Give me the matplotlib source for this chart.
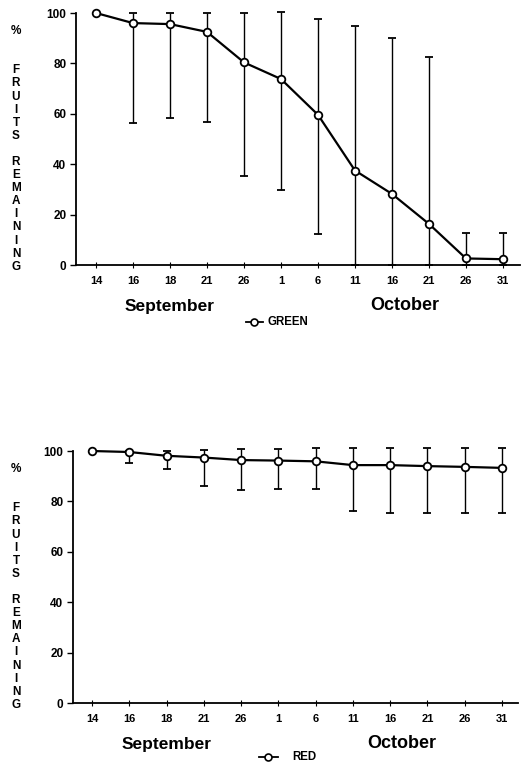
import matplotlib.pyplot as plt

plt.rcParams['font.family'] = ['Liberation Sans', 'DejaVu Sans']
plt.rcParams['font.weight'] = 'bold'

dates = ["14", "16", "18", "21", "26", "1", "6", "11", "16", "21", "26", "31"]

green_mean = [100, 96, 95.6, 92.5, 80.4, 73.8, 59.6, 37.5, 28.2, 16.3, 2.6, 2.3]
green_low = [100, 56.3, 58.3, 56.7, 35.5, 29.7, 12.3, 0, 0, 0, 0, 0]
green_high = [100, 100, 100, 100, 100, 100.5, 97.6, 94.7, 90, 82.6, 12.8, 12.6]

red_mean = [100, 99.6, 98.1, 97.4, 96.4, 96.2, 95.9, 94.4, 94.4, 94.0, 93.7, 93.3]
red_low = [100, 95.4, 93, 86, 84.7, 84.8, 84.9, 76.2, 75.5, 75.5, 75.5, 75.5]
red_high = [100, 99.9, 99.9, 100.5, 100.7, 100.7, 101, 101.3, 101.3, 101.3, 101.3, 101.3]

W, H = 526, 764
fig = plt.figure(figsize=(W / 100, H / 100), dpi=100)


def panel(rect, mean, low, high, xlim, label_top):
    ax = fig.add_axes(rect)
    x = list(range(len(dates)))
    yerr = [[m - l for m, l in zip(mean, low)], [h - m for m, h in zip(mean, high)]]
    ax.errorbar(x, mean, yerr=yerr, color='black', lw=1.6, elinewidth=1.0,
                capsize=3, capthick=1.0, marker='o', ms=5.5, mfc='white',
                mec='black', mew=1.3, zorder=3, clip_on=False)
    ax.set_xlim(*xlim)
    ax.set_ylim(0, 100)
    ax.set_yticks([0, 20, 40, 60, 80, 100])
    ax.set_xticks(x)
    ax.set_xticklabels(dates)
    for s in ['top', 'right']:
        ax.spines[s].set_visible(False)
    for s in ['left', 'bottom']:
        ax.spines[s].set_linewidth(1.3)
    ax.tick_params(axis='y', direction='out', length=4, width=1, labelsize=8.5, pad=3)
    ax.tick_params(axis='x', direction='inout', length=4, width=0.8, labelsize=8, pad=6)
    for t in ax.get_xticklabels() + ax.get_yticklabels():
        t.set_fontweight('bold')

    # stacked vertical axis label
    letters = "%  FRUITS REMAINING"
    y0 = label_top
    for ch in letters:
        if ch != ' ':
            fig.text(16 / W, 1 - y0 / H, ch, ha='center', va='center',
                     fontsize=8.5, fontweight='bold')
        y0 += 13.1
    return ax


ax1 = panel([76 / W, 1 - 265 / H, 444 / W, 252 / H], green_mean, green_low, green_high,
            (-0.54, 11.46), 31)
ax2 = panel([73 / W, 1 - 703 / H, 445 / W, 252 / H], red_mean, red_low, red_high,
            (-0.51, 11.43), 469)

fig.text(170 / W, 1 - 307 / H, "September", ha='center', va='center', fontsize=12.5, fontweight='bold')
fig.text(405 / W, 1 - 305 / H, "October", ha='center', va='center', fontsize=13, fontweight='bold')
fig.text(167 / W, 1 - 745 / H, "September", ha='center', va='center', fontsize=12.5, fontweight='bold')
fig.text(402 / W, 1 - 743 / H, "October", ha='center', va='center', fontsize=13, fontweight='bold')

# legend entries
fig.lines.append(plt.Line2D([246 / W, 263 / W], [1 - 322 / H, 1 - 322 / H], color='black', lw=1.3,
                            transform=fig.transFigure))
fig.lines.append(plt.Line2D([254 / W], [1 - 322 / H], marker='o', ms=5, mfc='white', mec='black',
                            mew=1.2, transform=fig.transFigure))
fig.text(267 / W, 1 - 322 / H, "GREEN", ha='left', va='center', fontsize=8.3, fontweight='bold')

fig.lines.append(plt.Line2D([259 / W, 278 / W], [1 - 757 / H, 1 - 757 / H], color='black', lw=1.3,
                            transform=fig.transFigure))
fig.lines.append(plt.Line2D([268 / W], [1 - 757 / H], marker='o', ms=5, mfc='white', mec='black',
                            mew=1.2, transform=fig.transFigure))
fig.text(292 / W, 1 - 757 / H, "RED", ha='left', va='center', fontsize=8.3, fontweight='bold')

fig.savefig("out.png", dpi=100)
